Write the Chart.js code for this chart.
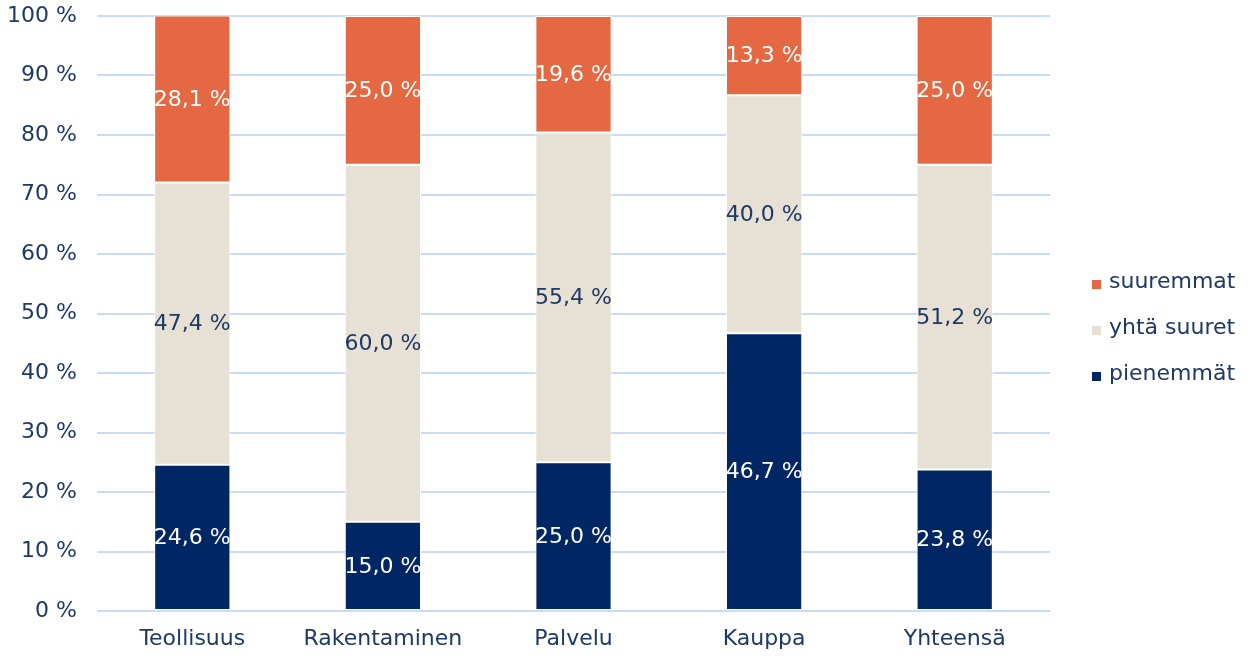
<!DOCTYPE html>
<html>
<head>
<meta charset="utf-8">
<script src="https://cdn.jsdelivr.net/npm/chart.js@4"></script>
<style>
  html, body { margin: 0; padding: 0; background: #fff; }
  #wrap { width: 1250px; height: 656px; position: relative; }
</style>
</head>
<body>
<div id="wrap"><canvas id="chart"></canvas></div>
<script>
const categories = ['Teollisuus', 'Rakentaminen', 'Palvelu', 'Kauppa', 'Yhteensä'];
const pienemmat = [24.6, 15.0, 25.0, 46.7, 23.8];
const yhtaSuuret = [47.4, 60.0, 55.4, 40.0, 51.2];
const suuremmat = [28.1, 25.0, 19.6, 13.3, 25.0];
const seriesNames = ['pienemmät', 'yhtä suuret', 'suuremmat'];

const navyText = '#1f3864';
const fontFamily = '"DejaVu Sans", sans-serif';
const fontSize = 22;

const fmt = v => v.toFixed(1).replace('.', ',') + ' %';

// arvot palkkien keskelle
const valueLabels = {
  id: 'valueLabels',
  afterDatasetsDraw(chart) {
    const ctx = chart.ctx;
    ctx.save();
    ctx.font = fontSize + 'px ' + fontFamily;
    ctx.textAlign = 'center';
    ctx.textBaseline = 'middle';
    chart.data.datasets.forEach((ds, i) => {
      const meta = chart.getDatasetMeta(i);
      meta.data.forEach((bar, j) => {
        const y = (bar.y + bar.base) / 2;
        ctx.fillStyle = ds.labelColor;
        ctx.fillText(fmt(ds.data[j]), bar.x, y + 1);
      });
    });
    ctx.restore();
  }
};

// selite oikealle
const sideLegend = {
  id: 'sideLegend',
  afterDraw(chart) {
    const ctx = chart.ctx;
    const area = chart.chartArea;
    const x = area.right + 42;
    const midY = 330;
    const gap = 46;
    ctx.save();
    ctx.font = fontSize + 'px ' + fontFamily;
    ctx.textBaseline = 'middle';
    const order = chart.data.datasets.slice().reverse();
    order.forEach((ds, k) => {
      const y = midY + (k - 1) * gap;
      ctx.fillStyle = ds.backgroundColor;
      ctx.fillRect(x, y - 4, 9, 9);
      ctx.fillStyle = navyText;
      ctx.fillText(ds.label, x + 17, y - 2);
    });
    ctx.restore();
  }
};

const ctx = document.getElementById('chart').getContext('2d');
new Chart(ctx, {
  type: 'bar',
  data: {
    labels: categories,
    datasets: [
      { label: seriesNames[0], data: pienemmat, backgroundColor: '#002663', labelColor: '#ffffff' },
      { label: seriesNames[1], data: yhtaSuuret, backgroundColor: '#e7e0d4', labelColor: navyText },
      { label: seriesNames[2], data: suuremmat, backgroundColor: '#e46842', labelColor: '#ffffff' }
    ].map(d => Object.assign(d, {
      borderColor: '#ffffff',
      borderWidth: 1,
      borderSkipped: false,
      categoryPercentage: 1,
      barPercentage: 0.4
    }))
  },
  options: {
    responsive: true,
    maintainAspectRatio: false,
    animation: false,
    layout: { padding: { top: 16, right: 200, left: 0, bottom: 0 } },
    plugins: {
      legend: { display: false },
      tooltip: { enabled: false }
    },
    scales: {
      x: {
        stacked: true,
        grid: { display: false, drawTicks: false },
        border: { display: false },
        ticks: { color: navyText, font: { family: fontFamily, size: fontSize }, padding: 15 },
        afterFit: s => { s.height = 45; }
      },
      y: {
        stacked: true,
        min: 0,
        max: 100,
        ticks: {
          stepSize: 10,
          color: navyText,
          font: { family: fontFamily, size: fontSize },
          padding: 20,
          callback: v => v + ' %'
        },
        grid: { color: '#c9dbf5', lineWidth: 2, drawTicks: false },
        border: { display: false },
        afterFit: s => { s.width = 97; s.paddingTop = 0; s.paddingBottom = 0; }
      }
    }
  },
  plugins: [valueLabels, sideLegend]
});
</script>
</body>
</html>
